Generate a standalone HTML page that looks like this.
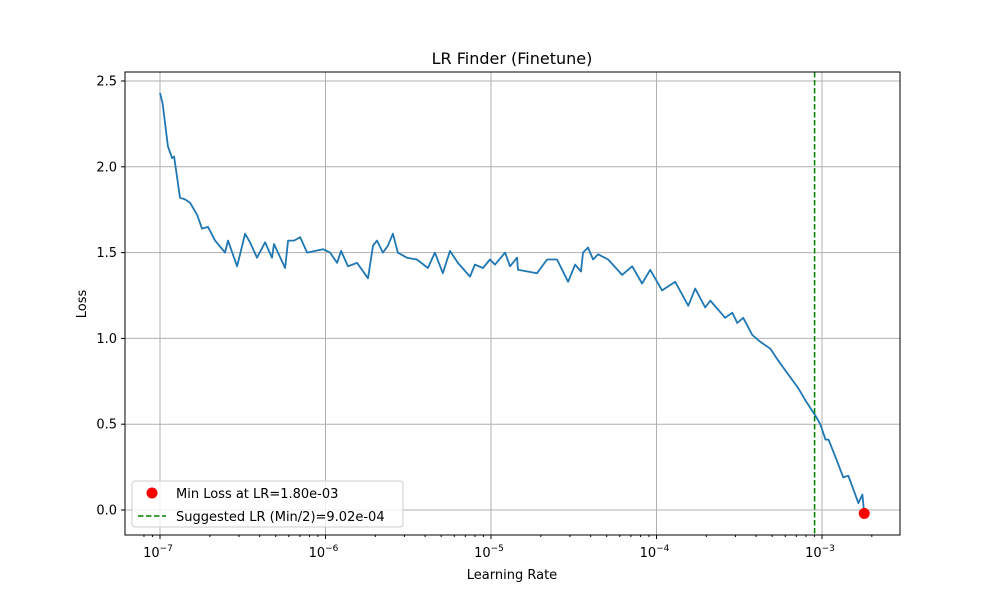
<!DOCTYPE html>
<html><head><meta charset="utf-8"><style>
body{margin:0;background:#fff;}
svg text{font-family:"DejaVu Sans","Liberation Sans",sans-serif;fill:#000;}
</style></head><body>
<svg id="chart" width="1000" height="600" xmlns="http://www.w3.org/2000/svg">
<rect width="1000" height="600" fill="#fff"/>
<text x="512" y="64" font-size="16" text-anchor="middle">LR Finder (Finetune)</text>
<g id="grid"></g>
<g id="axes"></g>
<g id="series"></g>
<rect x="125" y="72" width="775" height="463" fill="none" stroke="#000" stroke-width="1"/>
<text x="512" y="579" font-size="13" text-anchor="middle">Learning Rate</text>
<text x="0" y="0" font-size="13" text-anchor="middle" transform="translate(86,304) rotate(-90)">Loss</text>
<g>
<rect x="132" y="481" width="271" height="46" rx="3" fill="#fff" fill-opacity="0.8" stroke="#ccc"/>
<circle cx="152" cy="493" r="5.5" fill="red"/>
<text x="176" y="498" font-size="13">Min Loss at LR=1.80e-03</text>
<line x1="138" y1="516" x2="166" y2="516" stroke="green" stroke-width="1.5" stroke-dasharray="5.5,2.5"/>
<text x="176" y="521" font-size="13">Suggested LR (Min/2)=9.02e-04</text>
</g>
</svg>
<script>
const logLR=[-7,-6.984,-6.952,-6.927,-6.915,-6.879,-6.849,-6.818,-6.776,-6.746,-6.710,-6.667,-6.607,-6.589,-6.534,-6.486,-6.456,-6.414,-6.365,-6.323,-6.311,-6.244,-6.226,-6.190,-6.153,-6.111,-6.015,-5.972,-5.930,-5.906,-5.864,-5.809,-5.743,-5.713,-5.689,-5.653,-5.623,-5.593,-5.563,-5.508,-5.448,-5.381,-5.339,-5.291,-5.248,-5.200,-5.127,-5.097,-5.049,-5.006,-4.976,-4.915,-4.885,-4.843,-4.837,-4.722,-4.661,-4.601,-4.534,-4.492,-4.456,-4.444,-4.414,-4.383,-4.353,-4.292,-4.208,-4.147,-4.087,-4.038,-3.966,-3.887,-3.808,-3.766,-3.706,-3.675,-3.585,-3.542,-3.512,-3.476,-3.421,-3.373,-3.312,-3.264,-3.204,-3.143,-3.101,-3.040,-3.010,-2.979,-2.961,-2.919,-2.871,-2.841,-2.780,-2.756,-2.745];
const loss=[2.43,2.37,2.12,2.05,2.06,1.82,1.81,1.79,1.72,1.64,1.65,1.57,1.50,1.57,1.42,1.61,1.56,1.47,1.56,1.47,1.55,1.41,1.57,1.57,1.59,1.50,1.52,1.50,1.44,1.51,1.42,1.44,1.35,1.54,1.57,1.50,1.54,1.61,1.50,1.47,1.46,1.41,1.50,1.38,1.51,1.44,1.36,1.43,1.41,1.46,1.43,1.50,1.42,1.47,1.40,1.38,1.46,1.46,1.33,1.43,1.39,1.50,1.53,1.46,1.49,1.46,1.37,1.42,1.32,1.40,1.28,1.33,1.19,1.29,1.18,1.22,1.12,1.15,1.09,1.12,1.02,0.98,0.94,0.87,0.79,0.71,0.64,0.55,0.50,0.41,0.41,0.31,0.19,0.20,0.04,0.09,-0.02];
const yTicks=[0,0.5,1,1.5,2,2.5];
const yTickLabels=["0.0","0.5","1.0","1.5","2.0","2.5"];
const xTicks=[-7,-6,-5,-4,-3];
const minLR=1.80e-3, minLoss=-0.02, suggestedLR=9.02e-4;
const NS='http://www.w3.org/2000/svg';
const X=l=>160+(l+7)*165.5;
const Y=v=>510-v*171.6;
function mk(tag,attrs,parent){const e=document.createElementNS(NS,tag);for(const k in attrs)e.setAttribute(k,attrs[k]);parent.appendChild(e);return e;}
const grid=document.getElementById('grid'),axes=document.getElementById('axes'),series=document.getElementById('series');
yTicks.forEach((t,i)=>{
 const g=mk('line',{x1:125,x2:900,y1:Y(t),y2:Y(t),stroke:'#b0b0b0','stroke-width':1},grid);
 
 
 mk('line',{x1:121,x2:125,y1:Y(t),y2:Y(t),stroke:'#000'},axes);
 const tx=mk('text',{x:117,y:Y(t)+4.5,'font-size':13,'text-anchor':'end'},axes);
 tx.textContent=yTickLabels[i];
 
 
});
xTicks.forEach(t=>{
 const g=mk('line',{x1:X(t),x2:X(t),y1:72,y2:535,stroke:'#b0b0b0','stroke-width':1},grid);
 
 
 mk('line',{x1:X(t),x2:X(t),y1:535,y2:539,stroke:'#000'},axes);
 for(let k=2;k<10;k++){const lx=X(t+Math.log10(k));if(lx<900)mk('line',{x1:lx,x2:lx,y1:535,y2:537,stroke:'#000'},axes);}
 const tx=mk('text',{x:X(t)-2,y:557,'font-size':13,'text-anchor':'middle'},axes);
 
 
 tx.textContent='10';
 const s=mk('tspan',{dy:-6,'font-size':9},tx);s.textContent='−'+(-t);
});
[8,9].forEach(k=>{const lx=X(-8+Math.log10(k));if(lx>125)mk('line',{x1:lx,x2:lx,y1:535,y2:537,stroke:'#000'},axes);});
const pts=logLR.map((l,i)=>X(l).toFixed(1)+','+Y(loss[i]).toFixed(1)).join(' ');
const pl=mk('polyline',{points:pts,fill:'none',stroke:'#1f77b4','stroke-width':1.8,'stroke-linejoin':'round'},series);


const sx=X(Math.log10(suggestedLR));
const vl=mk('line',{x1:sx,x2:sx,y1:72,y2:535,stroke:'green','stroke-width':1.5,'stroke-dasharray':'5.5,2.5'},series);


const mc=mk('circle',{cx:X(Math.log10(minLR)),cy:Y(minLoss),r:5.5,fill:'red'},series);


</script>
</body></html>
